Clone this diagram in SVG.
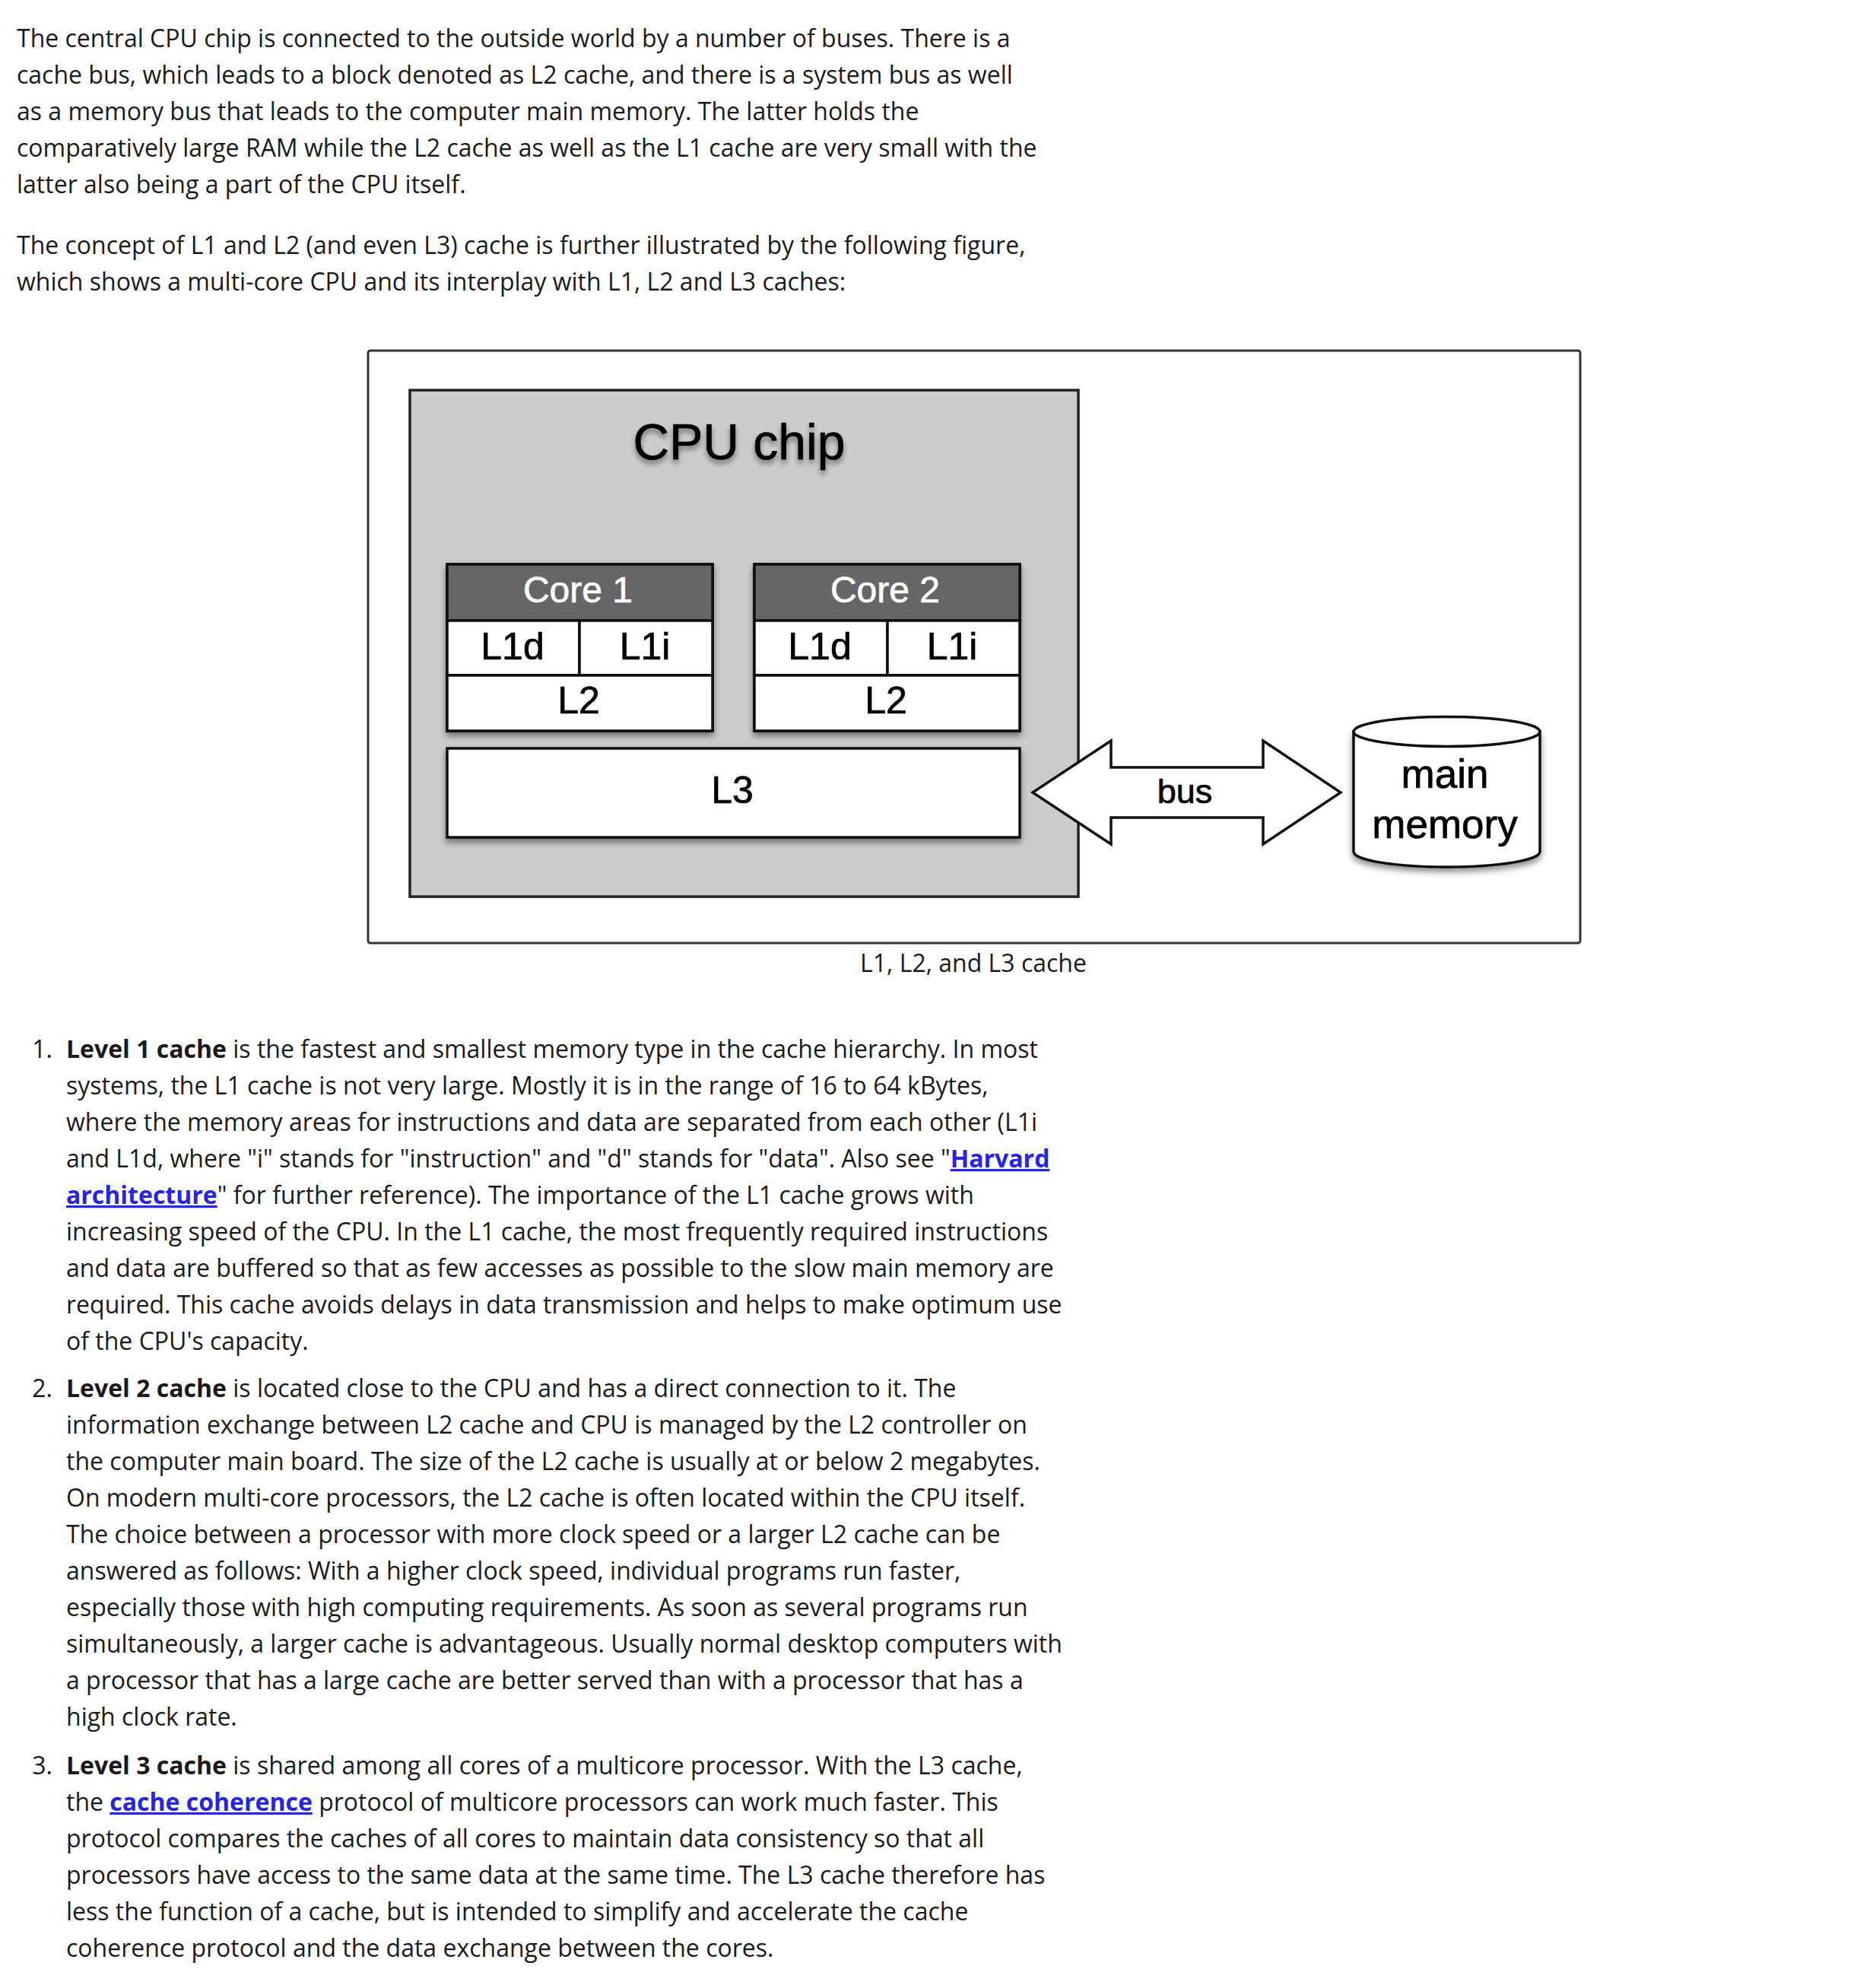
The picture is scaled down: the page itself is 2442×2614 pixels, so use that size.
<svg xmlns="http://www.w3.org/2000/svg" width="2442" height="2614" viewBox="0 0 2442 2614">
<defs>
<filter id="sh" x="-10%" y="-10%" width="120%" height="130%">
<feDropShadow dx="0" dy="5" stdDeviation="4" flood-color="#000" flood-opacity="0.45"/>
</filter>
<filter id="tsh" x="-10%" y="-20%" width="120%" height="150%">
<feDropShadow dx="0" dy="5" stdDeviation="3.5" flood-color="#000" flood-opacity="0.45"/>
</filter>
</defs>
<style>
.body{font-family:"Open Sans","Noto Sans",sans-serif;font-size:32px;fill:#1a1a1a}
.b{font-weight:bold}
.lnk{font-weight:bold;fill:#2424ea;text-decoration:underline}
.dg{font-family:"Liberation Sans",Arial,sans-serif;fill:#000;stroke:#000;stroke-width:0.7}
.box{fill:#fff;stroke:#111;stroke-width:3.5}
.hdr{fill:#666;stroke:#111;stroke-width:3.5}
.lbl{font-size:50px;text-anchor:middle}
.core{font-size:48px;text-anchor:middle;fill:#fff;stroke:#fff}
</style>
<rect width="2442" height="2614" fill="#fff"/>

<g id="intro" class="body">
<text x="22" y="62">The central CPU chip is connected to the outside world by a number of buses. There is a</text>
<text x="22" y="110">cache bus, which leads to a block denoted as L2 cache, and there is a system bus as well</text>
<text x="22" y="158">as a memory bus that leads to the computer main memory. The latter holds the</text>
<text x="22" y="206">comparatively large RAM while the L2 cache as well as the L1 cache are very small with the</text>
<text x="22" y="254">latter also being a part of the CPU itself.</text>
<text x="22" y="334">The concept of L1 and L2 (and even L3) cache is further illustrated by the following figure,</text>
<text x="22" y="382">which shows a multi-core CPU and its interplay with L1, L2 and L3 caches:</text>
</g>

<g id="figure-frame">
<rect x="484" y="461" width="1594" height="779" rx="3" fill="#fff" stroke="#333" stroke-width="3"/>
</g>

<g id="cpu-chip">
<rect x="539" y="513" width="879" height="666" fill="#cccccc" stroke="#222" stroke-width="3.5"/>
<text class="dg" x="972" y="604" font-size="66" text-anchor="middle" filter="url(#tsh)">CPU chip</text>
</g>

<g id="core1" filter="url(#sh)">
<rect class="box" x="588" y="742" width="349" height="219"/>
<rect class="hdr" x="588" y="742" width="349" height="74"/>
<rect class="box" x="588" y="816" width="174" height="72"/>
<rect class="box" x="762" y="816" width="175" height="72"/>
<rect class="box" x="588" y="888" width="349" height="73"/>
</g>
<g id="core1-text">
<text class="dg core" x="760" y="792">Core 1</text>
<text class="dg lbl" x="674" y="867">L1d</text>
<text class="dg lbl" x="848" y="867">L1i</text>
<text class="dg lbl" x="761" y="938">L2</text>
</g>

<g id="core2" filter="url(#sh)">
<rect class="box" x="992" y="742" width="349" height="219"/>
<rect class="hdr" x="992" y="742" width="349" height="74"/>
<rect class="box" x="992" y="816" width="175" height="72"/>
<rect class="box" x="1167" y="816" width="174" height="72"/>
<rect class="box" x="992" y="888" width="349" height="73"/>
</g>
<g id="core2-text">
<text class="dg core" x="1164" y="792">Core 2</text>
<text class="dg lbl" x="1078" y="867">L1d</text>
<text class="dg lbl" x="1252" y="867">L1i</text>
<text class="dg lbl" x="1165" y="938">L2</text>
</g>

<g id="l3">
<rect class="box" x="588" y="984" width="753" height="117" filter="url(#sh)"/>
<text class="dg lbl" x="963" y="1056">L3</text>
</g>

<g id="connectors">
<polygon points="1358,1042 1461,974 1461,1009 1661,1009 1661,974 1763,1042 1661,1110 1661,1075 1461,1075 1461,1110" fill="#fff" stroke="#111" stroke-width="3.5" stroke-linejoin="miter"/>
<text class="dg" x="1558" y="1056" font-size="45" text-anchor="middle">bus</text>
</g>

<g id="main-memory">
<path d="M1780,962 L1780,1120 A122.5,20 0 0 0 2025,1120 L2025,962 Z" fill="#fff" stroke="#111" stroke-width="3.5" filter="url(#sh)"/>
<ellipse cx="1902.5" cy="962" rx="122.5" ry="19.5" fill="#fff" stroke="#111" stroke-width="3.5"/>
<text class="dg" x="1900" y="1036" font-size="53" text-anchor="middle">main</text>
<text class="dg" x="1900" y="1102" font-size="53" text-anchor="middle">memory</text>
</g>

<g id="caption" class="body">
<text x="1280" y="1278" text-anchor="middle">L1, L2, and L3 cache</text>
</g>

<g id="list" class="body">
<text x="69" y="1391" text-anchor="end">1.</text>
<text x="87" y="1391"><tspan class="b">Level 1 cache</tspan> is the fastest and smallest memory type in the cache hierarchy. In most</text>
<text x="87" y="1439">systems, the L1 cache is not very large. Mostly it is in the range of 16 to 64 kBytes,</text>
<text x="87" y="1487">where the memory areas for instructions and data are separated from each other (L1i</text>
<text x="87" y="1535">and L1d, where "i" stands for "instruction" and "d" stands for "data". Also see "<tspan class="lnk">Harvard</tspan></text>
<text x="87" y="1583"><tspan class="lnk">architecture</tspan>" for further reference). The importance of the L1 cache grows with</text>
<text x="87" y="1631">increasing speed of the CPU. In the L1 cache, the most frequently required instructions</text>
<text x="87" y="1679">and data are buffered so that as few accesses as possible to the slow main memory are</text>
<text x="87" y="1727">required. This cache avoids delays in data transmission and helps to make optimum use</text>
<text x="87" y="1775">of the CPU's capacity.</text>

<text x="69" y="1837" text-anchor="end">2.</text>
<text x="87" y="1837"><tspan class="b">Level 2 cache</tspan> is located close to the CPU and has a direct connection to it. The</text>
<text x="87" y="1885">information exchange between L2 cache and CPU is managed by the L2 controller on</text>
<text x="87" y="1933">the computer main board. The size of the L2 cache is usually at or below 2 megabytes.</text>
<text x="87" y="1981">On modern multi-core processors, the L2 cache is often located within the CPU itself.</text>
<text x="87" y="2029">The choice between a processor with more clock speed or a larger L2 cache can be</text>
<text x="87" y="2077">answered as follows: With a higher clock speed, individual programs run faster,</text>
<text x="87" y="2125">especially those with high computing requirements. As soon as several programs run</text>
<text x="87" y="2173">simultaneously, a larger cache is advantageous. Usually normal desktop computers with</text>
<text x="87" y="2221">a processor that has a large cache are better served than with a processor that has a</text>
<text x="87" y="2269">high clock rate.</text>

<text x="69" y="2333" text-anchor="end">3.</text>
<text x="87" y="2333"><tspan class="b">Level 3 cache</tspan> is shared among all cores of a multicore processor. With the L3 cache,</text>
<text x="87" y="2381">the <tspan class="lnk">cache coherence</tspan> protocol of multicore processors can work much faster. This</text>
<text x="87" y="2429">protocol compares the caches of all cores to maintain data consistency so that all</text>
<text x="87" y="2477">processors have access to the same data at the same time. The L3 cache therefore has</text>
<text x="87" y="2525">less the function of a cache, but is intended to simplify and accelerate the cache</text>
<text x="87" y="2573">coherence protocol and the data exchange between the cores.</text>
</g>
</svg>
